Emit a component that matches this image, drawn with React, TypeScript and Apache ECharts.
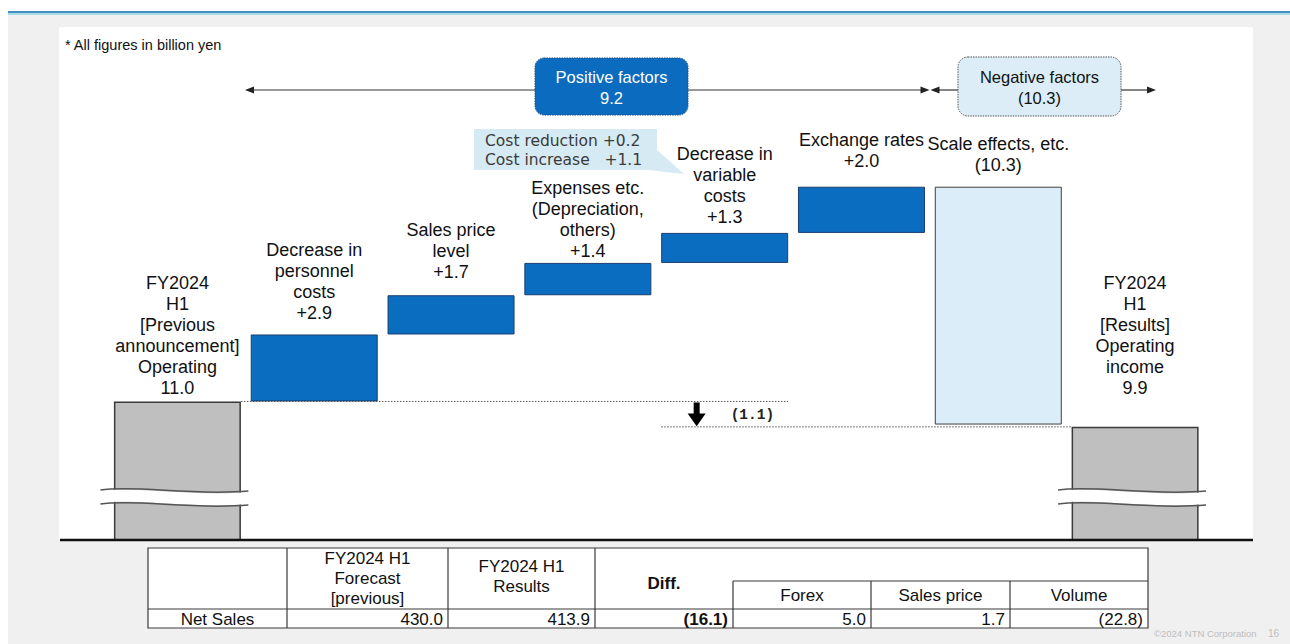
import React, { useEffect, useRef } from "react";
import * as echarts from "echarts";

// ---------- data ----------
const categories = [
  "FY2024 H1 Previous announcement",
  "Decrease in personnel costs",
  "Sales price level",
  "Expenses etc.",
  "Decrease in variable costs",
  "Exchange rates",
  "Scale effects, etc.",
  "FY2024 H1 Results",
];
const barNames = [
  "FY2024\nH1\n[Previous\nannouncement]\nOperating",
  "Decrease in\npersonnel\ncosts",
  "Sales price\nlevel",
  "Expenses etc.\n(Depreciation,\nothers)",
  "Decrease in\nvariable\ncosts",
  "Exchange rates",
  "Scale effects, etc.",
  "FY2024\nH1\n[Results]\nOperating\nincome",
];
const totalValues: (number | null)[] = [11.0, null, null, null, null, null, null, 9.9];
const factorDeltas: (number | null)[] = [null, 2.9, 1.7, 1.4, 1.3, 2.0, -10.3, null];
const factorBoxNames = ["Positive factors", "Negative factors"];
const factorBoxTotals = [9.2, -10.3];
const netChange = -1.1;
const calloutLines = ["Cost reduction +0.2", "Cost increase   +1.1"];
const footnote = "* All figures in billion yen";

const tableHeaders = ["", "FY2024 H1\nForecast\n[previous]", "FY2024 H1\nResults", "Diff."];
const diffHeaders = ["Forex", "Sales price", "Volume"];
const tableRowName = "Net Sales";
const netSalesValues = [430.0, 413.9, -16.1, 5.0, 1.7, -22.8];

// ---------- helpers ----------
const FONT = '"Liberation Sans", Arial, Helvetica, sans-serif';
const fmtPlain = (v: number) => (v < 0 ? `(${Math.abs(v).toFixed(1)})` : v.toFixed(1));
const fmtSigned = (v: number) => (v < 0 ? `(${Math.abs(v).toFixed(1)})` : `+${v.toFixed(1)}`);

function cubic(p0: number[], p1: number[], p2: number[], p3: number[], t: number) {
  const u = 1 - t;
  return [
    u * u * u * p0[0] + 3 * u * u * t * p1[0] + 3 * u * t * t * p2[0] + t * t * t * p3[0],
    u * u * u * p0[1] + 3 * u * u * t * p1[1] + 3 * u * t * t * p2[1] + t * t * t * p3[1],
  ];
}

function txt(text: string, x: number, y: number, opts: any = {}) {
  const align = opts.align || "center";
  const va = opts.va || "middle";
  return {
    type: "text",
    z: opts.z ?? 20,
    style: {
      text,
      x,
      y,
      fill: opts.fill || "#111",
      fontSize: opts.fontSize || 17,
      fontFamily: opts.fontFamily || FONT,
      fontWeight: opts.fontWeight || "normal",
      lineHeight: opts.lineHeight,
      align,
      verticalAlign: va,
      textAlign: align,
      textVerticalAlign: va,
    },
  };
}

function line(x1: number, y1: number, x2: number, y2: number, style: any = {}, z = 20) {
  return {
    type: "line",
    z,
    shape: { x1, y1, x2, y2 },
    style: { stroke: "#333", lineWidth: 1, ...style },
  };
}

function arrowHead(tipX: number, y: number, dir: number) {
  return {
    type: "polygon",
    z: 20,
    shape: {
      points: [
        [tipX, y],
        [tipX - dir * 9, y - 3.5],
        [tipX - dir * 9, y + 3.5],
      ],
    },
    style: { fill: "#222" },
  };
}

export default function App() {
  const ref = useRef<HTMLDivElement>(null);

  useEffect(() => {
    if (!ref.current) return;
    const chart = echarts.init(ref.current, null, { renderer: "svg" });

    // waterfall bases
    const bases: (number | string)[] = [];
    const deltas: any[] = [];
    let running = totalValues[0] as number;
    const labelDistances = [2.5, 10.5, 12.5, 1.5, 5.5, 15.5, 11.5, 28.5];
    factorDeltas.forEach((d, i) => {
      if (d == null) {
        bases.push("-");
        deltas.push("-");
        return;
      }
      const next = running + d;
      bases.push(Math.min(running, next));
      deltas.push({
        value: Math.abs(d),
        itemStyle:
          d > 0
            ? { color: "#0a6dc0", borderColor: "#1d3e6e", borderWidth: 1 }
            : { color: "#daedf8", borderColor: "#404040", borderWidth: 1 },
        label: { distance: labelDistances[i] },
      });
      running = next;
    });

    const labelBase = {
      show: true,
      position: "top",
      color: "#111",
      fontFamily: FONT,
      fontSize: 18,
      lineHeight: 21,
      align: "center",
    };

    const option: any = {
      animation: false,
      backgroundColor: "transparent",
      grid: { left: 109, right: 86.5, top: 32, bottom: 104, containLabel: false },
      xAxis: {
        type: "category",
        data: categories,
        show: false,
      },
      yAxis: { type: "value", min: 5, max: 27, show: false },
      series: [
        {
          name: "total",
          type: "bar",
          barWidth: 127,
          barGap: "-100%",
          z: 3,
          data: totalValues.map((v, i) =>
            v == null ? "-" : { value: v, label: { distance: labelDistances[i] } }
          ),
          itemStyle: { color: "#bfbfbf", borderColor: "#3a3a3a", borderWidth: 1.5 },
          label: {
            ...labelBase,
            formatter: (p: any) => `${barNames[p.dataIndex]}\n${fmtPlain(p.value)}`,
          },
        },
        {
          name: "base",
          type: "bar",
          stack: "w",
          barWidth: 127,
          barGap: "-100%",
          silent: true,
          itemStyle: { color: "rgba(0,0,0,0)" },
          data: bases,
        },
        {
          name: "delta",
          type: "bar",
          stack: "w",
          barWidth: 127,
          barGap: "-100%",
          z: 3,
          data: deltas,
          label: {
            ...labelBase,
            formatter: (p: any) =>
              `${barNames[p.dataIndex]}\n${fmtSigned(factorDeltas[p.dataIndex] as number)}`,
          },
        },
      ],
    };
    chart.setOption(option);

    const P = (i: number, v: number) =>
      chart.convertToPixel({ xAxisIndex: 0, yAxisIndex: 0 }, [i, v]) as number[];
    const half = 63.5;
    const cx = (i: number) => P(i, 5)[0];
    const baseY = P(0, 5)[1];
    const yPrev = P(0, totalValues[0] as number)[1];
    const yRes = P(7, totalValues[7] as number)[1];

    const els: any[] = [];
    // backgrounds
    els.push({ type: "rect", z: -5, shape: { x: 0, y: 0, width: 1290, height: 11 }, style: { fill: "#ffffff" } });
    els.push({ type: "rect", z: -5, shape: { x: 0, y: 0, width: 8, height: 644 }, style: { fill: "#ffffff" } });
    els.push({ type: "rect", z: -4, shape: { x: 8, y: 11, width: 1282, height: 2 }, style: { fill: "#3f8fbf" } });
    els.push({ type: "rect", z: -4, shape: { x: 8, y: 13, width: 1282, height: 2 }, style: { fill: "#a9dbe9" } });
    els.push({ type: "rect", z: -4, shape: { x: 59, y: 27, width: 1194, height: baseY - 27 }, style: { fill: "#ffffff" } });

    // footnote
    els.push(txt(footnote, 65, 45, { align: "left", fontSize: 14.5 }));

    // factor arrows
    const ay = 90;
    els.push(line(247, ay, 535, ay, { lineWidth: 1.2 }));
    els.push(arrowHead(245, ay, -1));
    els.push(line(688, ay, 922, ay, { lineWidth: 1.2 }));
    els.push(arrowHead(929.5, ay, 1));
    els.push(line(938, ay, 958, ay, { lineWidth: 1.2 }));
    els.push(arrowHead(930.5, ay, -1));
    els.push(line(1121, ay, 1148, ay, { lineWidth: 1.2 }));
    els.push(arrowHead(1156, ay, 1));

    // factor boxes
    els.push({
      type: "rect",
      z: 21,
      shape: { x: 535, y: 58, width: 153, height: 57, r: 9 },
      style: { fill: "#0b6cbf", stroke: "#1d4f86", lineWidth: 1, lineDash: [1.5, 1] },
    });
    els.push(
      txt(`${factorBoxNames[0]}\n${fmtPlain(factorBoxTotals[0])}`, 611.5, 87, {
        fill: "#ffffff",
        fontSize: 16.5,
        lineHeight: 21,
        z: 22,
      })
    );
    els.push({
      type: "rect",
      z: 21,
      shape: { x: 958, y: 57, width: 163, height: 59, r: 10 },
      style: { fill: "#dcedf7", stroke: "#555", lineWidth: 1, lineDash: [1.5, 1] },
    });
    els.push(
      txt(`${factorBoxNames[1]}\n${fmtPlain(factorBoxTotals[1])}`, 1039.5, 87.5, {
        fontSize: 16.5,
        lineHeight: 21,
        z: 22,
      })
    );

    // callout
    els.push({
      type: "rect",
      z: 15,
      shape: { x: 474, y: 129, width: 183, height: 41 },
      style: { fill: "#d6eaf4" },
    });
    els.push({
      type: "polygon",
      z: 15,
      shape: { points: [[657, 150], [684, 174], [648, 170]] },
      style: { fill: "#d6eaf4" },
    });
    els.push(
      txt(calloutLines.join("\n"), 485, 150.5, {
        align: "left",
        fontSize: 15.5,
        lineHeight: 19.5,
        fontFamily: '"DejaVu Sans", Verdana, sans-serif',
        fill: "#3a3a3a",
        z: 16,
      })
    );

    // dotted guide lines
    els.push(
      line(cx(0) + half, yPrev, cx(4) + half, yPrev, { stroke: "#555", lineWidth: 1, lineDash: [1.5, 1.5] }, 4)
    );
    els.push(
      line(cx(4) - half, yRes, cx(7) - half, yRes, { stroke: "#555", lineWidth: 1, lineDash: [1.5, 1.5] }, 4)
    );

    // down arrow & net change
    const axx = cx(4) - 28;
    els.push({
      type: "polygon",
      z: 20,
      shape: {
        points: [
          [axx - 3, yPrev + 1],
          [axx + 3, yPrev + 1],
          [axx + 3, yPrev + 12],
          [axx + 9, yPrev + 12],
          [axx, yRes - 0.5],
          [axx - 9, yPrev + 12],
          [axx - 3, yPrev + 12],
        ],
      },
      style: { fill: "#000" },
    });
    els.push(
      txt(fmtPlain(netChange), cx(4) + 6, (yPrev + yRes) / 2 + 1, {
        align: "left",
        fontSize: 14.5,
        fontWeight: "bold",
        fontFamily: '"Liberation Mono", "Courier New", monospace',
        fill: "#222",
      })
    );

    // axis breaks on gray bars
    [0, 7].forEach((i) => {
      const c = cx(i);
      const mk = (y: number) => [
        [c - 77, y],
        [c - 40, y - 5],
        [c + 15, y + 6],
        [c + 71, y + 1],
      ];
      const yA = baseY - 50;
      const yB = baseY - 36;
      const A = mk(yA);
      const B = mk(yB);
      const pts: number[][] = [];
      for (let k = 0; k <= 16; k++) {
        const p = cubic(A[0], A[1], A[2], A[3], k / 16);
        pts.push([p[0], p[1] + 1]);
      }
      for (let k = 16; k >= 0; k--) {
        const p = cubic(B[0], B[1], B[2], B[3], k / 16);
        pts.push([p[0], p[1] - 1]);
      }
      els.push({ type: "polygon", z: 10, shape: { points: pts }, style: { fill: "#ffffff" } });
      [A, B].forEach((Q) => {
        els.push({
          type: "bezierCurve",
          z: 11,
          shape: {
            x1: Q[0][0],
            y1: Q[0][1],
            cpx1: Q[1][0],
            cpy1: Q[1][1],
            cpx2: Q[2][0],
            cpy2: Q[2][1],
            x2: Q[3][0],
            y2: Q[3][1],
          },
          style: { stroke: "#555", lineWidth: 1.5, fill: null },
        });
      });
    });

    // baseline
    els.push(line(60, baseY, 1253, baseY, { stroke: "#111", lineWidth: 2.5 }, 12));

    // table
    const cols = [148, 287, 448, 595, 733, 871, 1010, 1148];
    const yTop = 548,
      ySub = 581,
      yHead = 609,
      yBot = 628;
    const tStroke = { stroke: "#3a3a3a", lineWidth: 1.2 };
    els.push({
      type: "rect",
      z: 18,
      shape: { x: cols[0], y: yTop, width: cols[7] - cols[0], height: yBot - yTop },
      style: { fill: "#ffffff", ...tStroke },
    });
    els.push(line(cols[0], yHead, cols[7], yHead, tStroke));
    els.push(line(cols[4], ySub, cols[7], ySub, tStroke));
    [1, 2, 3].forEach((k) => els.push(line(cols[k], yTop, cols[k], yBot, tStroke)));
    [4, 5, 6].forEach((k) => els.push(line(cols[k], ySub, cols[k], yBot, tStroke)));

    const tf = 17;
    els.push(txt(tableHeaders[1], (cols[1] + cols[2]) / 2, 578, { fontSize: tf, lineHeight: 20 }));
    els.push(txt(tableHeaders[2], (cols[2] + cols[3]) / 2, 576, { fontSize: tf, lineHeight: 20 }));
    els.push(
      txt(tableHeaders[3], (cols[3] + cols[4]) / 2, 583, { fontSize: tf, fontWeight: "bold" })
    );
    diffHeaders.forEach((h, k) =>
      els.push(txt(h, (cols[4 + k] + cols[5 + k]) / 2, 595, { fontSize: tf }))
    );
    const rowY = 619;
    els.push(txt(tableRowName, (cols[0] + cols[1]) / 2, rowY, { fontSize: tf }));
    netSalesValues.forEach((v, k) =>
      els.push(
        txt(fmtPlain(v), cols[k + 2] - 5, rowY, {
          fontSize: tf,
          align: "right",
          fontWeight: k === 2 ? "bold" : "normal",
        })
      )
    );

    // watermark
    els.push(txt("©2024 NTN Corporation", 1154, 633, { align: "left", fontSize: 9.5, fill: "#bdbdbd" }));
    els.push(txt("16", 1268, 633, { align: "left", fontSize: 10, fill: "#bdbdbd" }));

    chart.setOption({ graphic: { elements: els } });

    return () => chart.dispose();
  }, []);

  return (
    <div
      ref={ref}
      style={{
        position: "fixed",
        left: 0,
        top: 0,
        width: 1290,
        height: 644,
        background: "#f0f0f0",
      }}
    />
  );
}
